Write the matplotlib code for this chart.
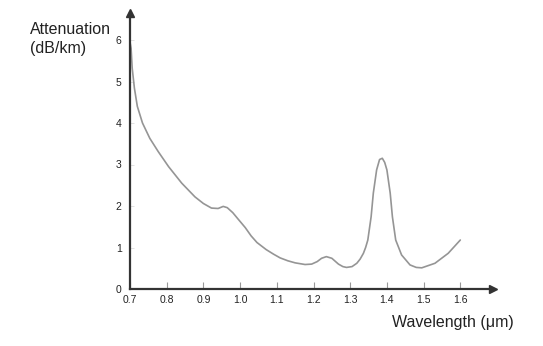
import matplotlib.pyplot as plt

plt.rcParams['font.family'] = ['Liberation Sans', 'DejaVu Sans']

# Values
wavelength = [0.700, 0.703, 0.706, 0.712, 0.720, 0.734, 0.754, 0.777, 0.805, 0.841,
              0.877, 0.900, 0.922, 0.940, 0.954, 0.965, 0.980, 0.995, 1.014, 1.030,
              1.046, 1.071, 1.091, 1.109, 1.130, 1.150, 1.177, 1.195, 1.210, 1.222,
              1.235, 1.250, 1.268, 1.280, 1.290, 1.305, 1.318, 1.327, 1.336, 1.342,
              1.348, 1.357, 1.363, 1.372, 1.380, 1.3875, 1.394, 1.400, 1.409, 1.415,
              1.424, 1.440, 1.463, 1.480, 1.495, 1.531, 1.567, 1.600]
attenuation = [5.95, 5.80, 5.32, 4.84, 4.40, 4.00, 3.63, 3.31, 2.95, 2.55,
               2.22, 2.06, 1.95, 1.94, 1.99, 1.96, 1.84, 1.68, 1.48, 1.28,
               1.12, 0.95, 0.84, 0.75, 0.68, 0.63, 0.59, 0.60, 0.66, 0.74,
               0.78, 0.74, 0.60, 0.54, 0.52, 0.54, 0.62, 0.72, 0.86, 1.00,
               1.18, 1.74, 2.31, 2.87, 3.12, 3.15, 3.05, 2.87, 2.31, 1.74,
               1.18, 0.82, 0.58, 0.52, 0.51, 0.62, 0.86, 1.18]

xticks = [0.7, 0.8, 0.9, 1.0, 1.1, 1.2, 1.3, 1.4, 1.5, 1.6]
xticklabels = ['0.7', '0.8', '0.9', '1.0', '1.1', '1.2', '1.3', '1.4', '1.5', '1.6']
yticks = [0, 1, 2, 3, 4, 5, 6]

W, H = 543, 346
fig = plt.figure(figsize=(W / 100, H / 100), dpi=100)
# axes placed in pixel coords: origin (130, 289), x arrow tip 493, y arrow tip 13
ax = fig.add_axes([130 / W, (H - 289) / H, (493 - 130) / W, (289 - 13) / H])

xmax = 0.7 + (493 - 130) / 367.0
ymax = (289 - 13) / 41.5
ax.set_xlim(0.7, xmax)
ax.set_ylim(0, ymax)

ax.plot(wavelength, attenuation, color='#959595', lw=1.2,
        solid_capstyle='round', solid_joinstyle='round')

for s in ['top', 'right']:
    ax.spines[s].set_visible(False)
for s in ['left', 'bottom']:
    ax.spines[s].set_color('#333333')
    ax.spines[s].set_linewidth(1.6)

# arrow heads at the ends of the axes
ax.plot([1], [0], marker='>', ms=6, color='#333333',
        transform=ax.transAxes, clip_on=False)
ax.plot([0], [1], marker='^', ms=6, color='#333333',
        transform=ax.transAxes, clip_on=False)

ax.set_xticks(xticks)
ax.set_xticklabels(xticklabels)
ax.set_yticks(yticks)
ax.tick_params(axis='x', direction='in', length=5, width=0.8, color='#999999',
               labelsize=7.5, pad=4, labelcolor='#222222')
ax.tick_params(axis='y', direction='in', length=3, width=0.6, color='#dddddd',
               labelsize=7.5, pad=6, labelcolor='#222222')

fig.text(30 / W, 1 - 29 / H, 'Attenuation', fontsize=11.5, ha='left', va='center',
         color='#222222')
fig.text(30 / W, 1 - 49 / H, '(dB/km)', fontsize=11.5, ha='left', va='center',
         color='#222222')
fig.text(392 / W, 1 - 322 / H, 'Wavelength (\u03bcm)', fontsize=11.5, ha='left',
         va='center', color='#222222')

fig.savefig('out.png', dpi=100)
